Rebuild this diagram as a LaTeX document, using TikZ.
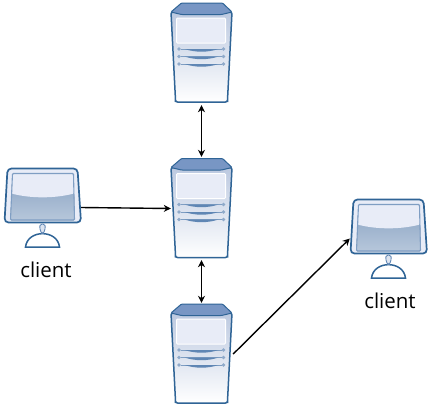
\documentclass[tikz,border=0pt]{standalone}
\usepackage{fontspec}
\setmainfont{Open Sans}
\usepackage{xcolor}
\usetikzlibrary{arrows.meta,calc,positioning}
\definecolor{iconline}{HTML}{2F6496}
\definecolor{iconcap}{HTML}{7896C4}
\definecolor{iconbar}{HTML}{5F86B4}
\definecolor{iconpale}{HTML}{E8ECF7}
\definecolor{icontop}{HTML}{BCC9E0}
\definecolor{iconlow}{HTML}{86A1C2}

\begin{document}
\begin{tikzpicture}[x=1pt,y=-1pt,
  srvbox/.style={minimum width=61pt,minimum height=100pt,inner sep=0pt},
  clbox/.style={minimum width=77pt,minimum height=79pt,inner sep=0pt},
  link/.style={-{Stealth[length=7pt,width=7pt]},line width=1.4pt},
  biglink/.style={{Stealth[length=7pt,width=7pt]}-{Stealth[length=7pt,width=7pt]},line width=1.1pt},
  cltext/.style={font=\fontsize{20.5}{24}\selectfont,inner sep=0pt},
  drive/.pic={
    \fill[iconbar!70] (-22.5,0) circle (1.8) (22,0) circle (1.8);
    \draw[iconbar!80,line width=0.9pt] (-21,0) -- (20.5,0);
    \fill[iconbar] (-17,0) .. controls (-6,3.6) and (6,3.6) .. (17,0) -- cycle;
  },
  server/.pic={
    \draw[iconline,line width=1.5pt,rounded corners=2pt,top color=icontop,bottom color=white]
      (-30.5,-41) -- (-26,47) -- (-26,49) -- (26,49) -- (26,47) -- (30.5,-41) -- cycle;
    \draw[iconline,line width=1pt,fill=iconcap,rounded corners=1pt]
      (-30.5,-41) -- (-20,-50) -- (21,-50) -- (30.5,-41) -- (20,-38.5) -- (-20,-38.5) -- cycle;
    \draw[white,line width=1pt,fill=iconpale,rounded corners=1pt] (-25,-35) rectangle (24,-10);
    \pic at (0,-4) {drive};
    \pic at (0,3.5) {drive};
    \pic at (0,11) {drive};
  },
  screen/.pic={
    \draw[iconline,line width=1.7pt,fill=iconpale,rounded corners=4pt]
      (-35,-39) -- (35,-39) -- (38.5,15) -- (-38,15) -- cycle;
    \fill[top color=iconlow,bottom color=iconlow!60,rounded corners=1pt]
      (-30,-34) -- (31,-34) -- (32,12.5) -- (-32,12.5) -- cycle;
    \fill[iconpale,rounded corners=1pt] (-30,-34) -- (31,-34) -- (31.5,-14)
      .. controls (12,-9) and (-12,-9) .. (-31,-14) -- cycle;
    \draw[iconbar!80,line width=1.1pt,rounded corners=1pt]
      (-30,-34) -- (31,-34) -- (32,12.5) -- (-32,12.5) -- cycle;
    \draw[iconline,line width=1.5pt,fill=white] (-17,39.5) .. controls (-15,21.7) and (15,21.7) .. (17,39.5) -- cycle;
    \draw[iconbar,fill=icontop!50,line width=0.9pt,rounded corners=1.5pt]
      (-1,26) -- (-3,20) -- (-2,16.5) -- (2,16.5) -- (3,20) -- (1,26) -- cycle;
  }]
  \useasboundingbox (0,0) rectangle (429,408);
  \node[srvbox] (srvtop) at (201.5,53) {};
  \node[srvbox] (srvmid) at (201.5,208.5) {};
  \node[srvbox] (srvbot) at (201.5,354) {};
  \node[clbox] (clleft) at (42.5,207.5) {};
  \node[clbox] (clright) at (388.5,238.5) {};
  \pic at (srvtop) {server};
  \pic at (srvmid) {server};
  \pic at (srvbot) {server};
  \pic at (clleft) {screen};
  \pic at (clright) {screen};
  \node[cltext] (lblleft) at (46,270) {client};
  \node[cltext] (lblright) at (390,301) {client};
  \draw[biglink] ([yshift=-2pt]srvtop.south) -- ([yshift=1.5pt]srvmid.north);
  \draw[biglink] ([yshift=-1.5pt]srvmid.south) -- ([yshift=1pt]srvbot.north);
  \draw[link] (clleft.east) -- (srvmid.west);
  \draw[link] ([xshift=1pt]srvbot.east) -- (clright.west);
\end{tikzpicture}
\end{document}
